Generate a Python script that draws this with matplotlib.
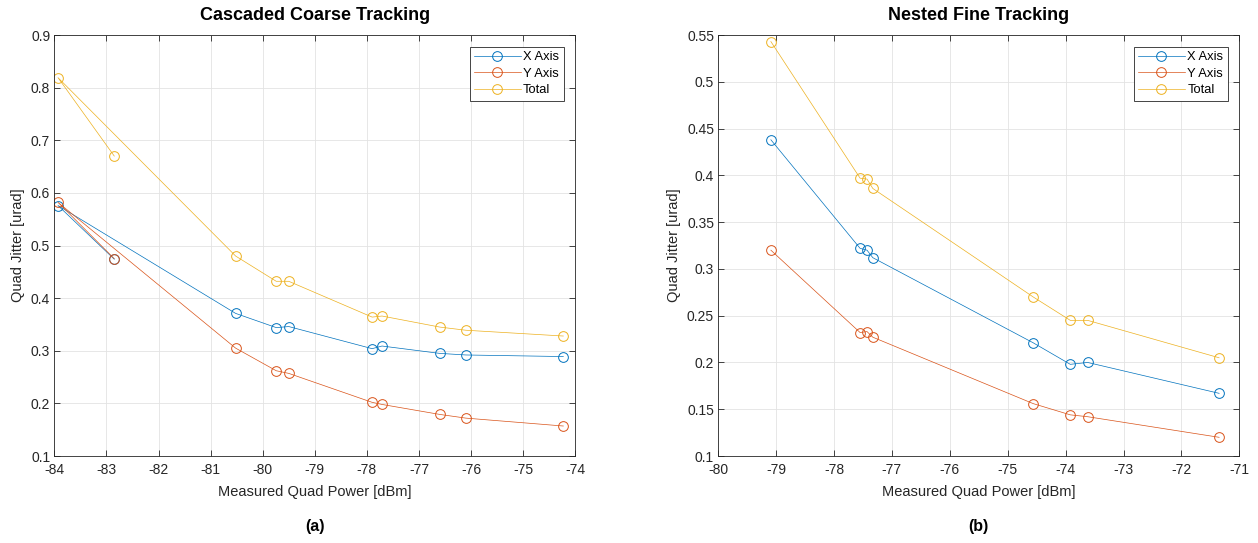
import matplotlib
matplotlib.use("Agg")
import matplotlib.pyplot as plt

plt.rcParams['font.family'] = ['Liberation Sans', 'DejaVu Sans']
plt.rcParams['axes.unicode_minus'] = False

# colours (MATLAB defaults)
c_x = '#0072BD'
c_y = '#D95319'
c_t = '#EDB120'
ax_col = '#262626'

# (a) cascaded coarse tracking -- data kept in measurement order
coarse_power = [-82.85, -83.93, -80.52, -79.74, -79.50, -77.90, -77.71, -76.60, -76.10, -74.23]
coarse_x = [0.474, 0.576, 0.371, 0.344, 0.346, 0.304, 0.309, 0.295, 0.292, 0.289]
coarse_y = [0.475, 0.582, 0.305, 0.262, 0.257, 0.202, 0.198, 0.179, 0.172, 0.157]
coarse_total = [0.670, 0.819, 0.480, 0.432, 0.432, 0.364, 0.366, 0.345, 0.339, 0.328]

# (b) nested fine tracking
fine_power = [-79.09, -77.55, -77.43, -77.33, -74.56, -73.92, -73.62, -71.35]
fine_x = [0.438, 0.322, 0.320, 0.312, 0.221, 0.198, 0.200, 0.167]
fine_y = [0.320, 0.232, 0.233, 0.227, 0.156, 0.144, 0.142, 0.120]
fine_total = [0.543, 0.397, 0.396, 0.386, 0.270, 0.245, 0.245, 0.205]

coarse_xticks = list(range(-84, -73))
coarse_yticks = [0.1, 0.2, 0.3, 0.4, 0.5, 0.6, 0.7, 0.8, 0.9]
fine_xticks = list(range(-80, -70))
fine_yticks = [0.1, 0.15, 0.2, 0.25, 0.3, 0.35, 0.4, 0.45, 0.5, 0.55]


def style_axes(ax, xticks, yticks, title, xlab, tag):
    ax.set_xlim(xticks[0], xticks[-1])
    ax.set_ylim(yticks[0], yticks[-1])
    ax.set_xticks(xticks)
    ax.set_yticks(yticks)
    ax.set_yticklabels([('%g' % v) for v in yticks])
    ax.grid(True, color='#e3e3e3', linewidth=0.6)
    ax.set_axisbelow(True)
    ax.tick_params(direction='in', top=True, right=True, length=4,
                   colors=ax_col, labelsize=10, width=0.6)
    ax.tick_params(axis='x', pad=5)
    ax.tick_params(axis='y', pad=3)
    for s in ax.spines.values():
        s.set_color(ax_col)
        s.set_linewidth(0.6)
    ax.set_title(title, fontsize=13, fontweight='bold', pad=11)
    ax.set_xlabel(xlab, fontsize=10.5, color=ax_col, labelpad=6)
    ax.set_ylabel('Quad Jitter [urad]', fontsize=10.5, color=ax_col, labelpad=4)
    ax.text(0.5, -0.15, tag, transform=ax.transAxes, ha='center', va='top',
            fontsize=11.5, fontweight='bold')
    leg = ax.legend(loc='upper right', fontsize=9.3, fancybox=False,
                    framealpha=1, edgecolor=ax_col, borderaxespad=0.9,
                    handlelength=3.6, borderpad=0.35, labelspacing=0.35,
                    handletextpad=0.2)
    leg.get_frame().set_linewidth(0.6)


def draw(ax, power, xs, ys, tot):
    kw = dict(marker='o', mfc='none', markersize=7, linewidth=0.5, mew=0.7)
    ax.plot(power, xs, color=c_x, label='X Axis', **kw)
    ax.plot(power, ys, color=c_y, label='Y Axis', **kw)
    ax.plot(power, tot, color=c_t, label='Total', **kw)


fig = plt.figure(figsize=(12.58, 5.43), dpi=100)
ax1 = fig.add_axes([0.0432, 0.1602, 0.4141, 0.7753])
ax2 = fig.add_axes([0.5709, 0.1602, 0.4143, 0.7753])

draw(ax1, coarse_power, coarse_x, coarse_y, coarse_total)
style_axes(ax1, coarse_xticks, coarse_yticks, 'Cascaded Coarse Tracking',
           'Measured Quad Power [dBm]', '(a)')

draw(ax2, fine_power, fine_x, fine_y, fine_total)
style_axes(ax2, fine_xticks, fine_yticks, 'Nested Fine Tracking',
           'Measured Quad Power [dBm]', '(b)')

fig.savefig('out.png', dpi=100, facecolor='white')
